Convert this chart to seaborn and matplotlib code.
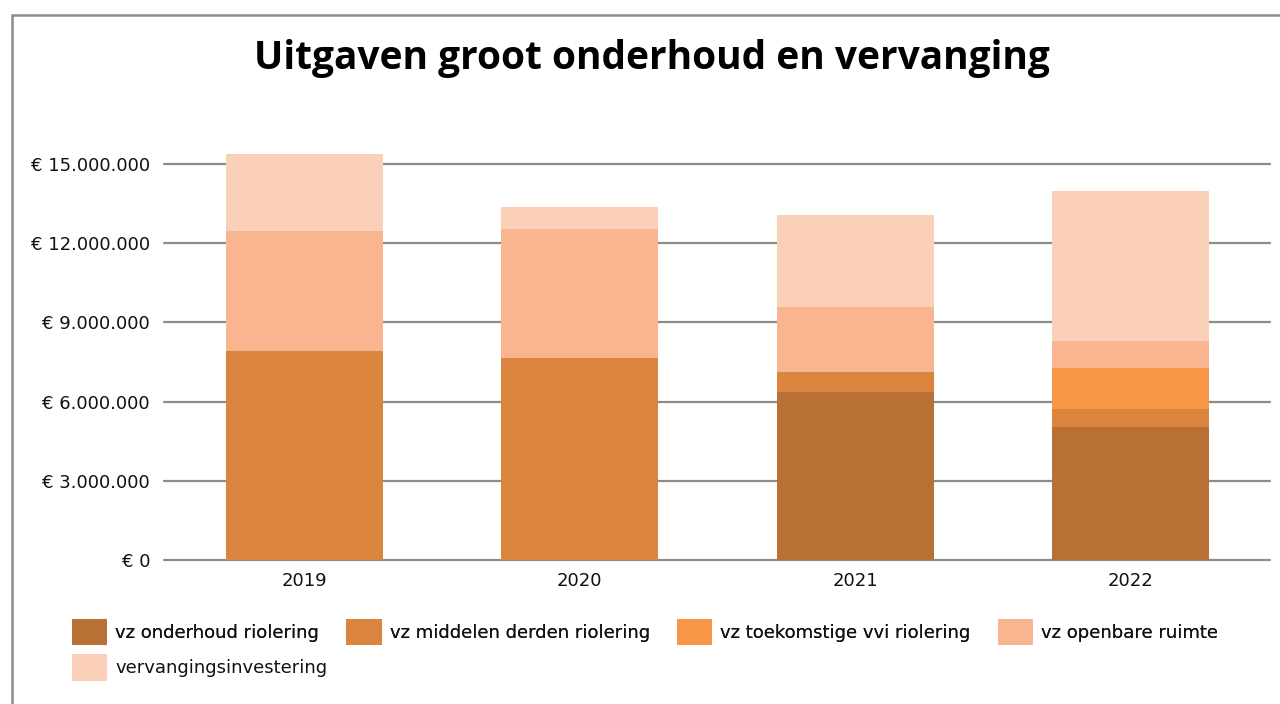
import matplotlib
matplotlib.use("Agg")
import matplotlib.pyplot as plt
from matplotlib.patches import Rectangle
from matplotlib.ticker import FuncFormatter
import seaborn as sns
import numpy as np

# Expenditure per year, in euros
years = ["2019", "2020", "2021", "2022"]
series_names = [
    "vz onderhoud riolering",
    "vz middelen derden riolering",
    "vz toekomstige vvi riolering",
    "vz openbare ruimte",
    "vervangingsinvestering",
]
onderhoud_riolering = [0, 0, 6_360_000, 5_030_000]
middelen_derden = [7_930_000, 7_640_000, 750_000, 680_000]
toekomstige_vvi = [0, 0, 0, 1_550_000]
openbare_ruimte = [4_540_000, 4_910_000, 2_470_000, 1_050_000]
vervangingsinvestering = [2_910_000, 830_000, 3_500_000, 5_660_000]
y_ticks = [0, 3_000_000, 6_000_000, 9_000_000, 12_000_000, 15_000_000]

colors = ["#B97034", "#DB843D", "#F69646", "#F9B590", "#FAD0B9"]

sns.set_theme(style="white")
plt.rcParams["font.family"] = ["DejaVu Sans"]

fig = plt.figure(figsize=(12.8, 7.04), dpi=100)
ax = fig.add_axes([164 / 1280, 1 - 560 / 704, (1270 - 164) / 1280, 422.4 / 704])

series = [onderhoud_riolering, middelen_derden, toekomstige_vvi,
          openbare_ruimte, vervangingsinvestering]
bottom = np.zeros(len(years))
for name, vals, col in zip(series_names, series, colors):
    sns.barplot(x=years, y=vals, bottom=bottom, color=col, width=0.57,
                ax=ax, label=name, saturation=1, linewidth=0)
    bottom = bottom + np.array(vals)

handles, labels = ax.get_legend_handles_labels()
if ax.get_legend() is not None:
    ax.get_legend().remove()

ax.set_ylim(0, 16_000_000)
ax.set_xlim(-0.51, 3.507)
ax.set_yticks(y_ticks)


def euro(v, _pos):
    s = f"{int(round(v)):,}".replace(",", ".")
    return f"€ {s}"


ax.yaxis.set_major_formatter(FuncFormatter(euro))
ax.yaxis.grid(True, color="#8C8C8C", linewidth=1.6)
for gl in ax.yaxis.get_gridlines():
    gl.set_clip_on(False)
ax.set_axisbelow(True)
for sp in ax.spines.values():
    sp.set_visible(False)
ax.tick_params(axis="both", length=0, labelsize=13, colors="#111111")
ax.tick_params(axis="y", pad=10)
ax.tick_params(axis="x", pad=9)
ax.set_xlabel("")
ax.set_ylabel("")

fig.text(652 / 1280, 1 - 58 / 704, "Uitgaven groot onderhoud en vervanging",
         ha="center", va="center", fontsize=28, fontweight="bold",
         family=["Open Sans", "DejaVu Sans"], color="#000000")

# Outer chart frame
fig.patches.append(Rectangle((12 / 1280, -0.1), 1.2, 1 - 15 / 704 + 0.1,
                             transform=fig.transFigure, fill=False,
                             edgecolor="#8C8C8C", linewidth=1.8))

legend_kw = dict(loc="upper left", frameon=False, fontsize=13,
                 handlelength=1.94, handleheight=1.89, handletextpad=0.45,
                 columnspacing=1.52, borderpad=0, borderaxespad=0,
                 labelspacing=0.2, labelcolor="#111111")
leg1 = fig.legend(handles[:4], labels[:4], ncol=4,
                  bbox_to_anchor=(72 / 1280, 1 - 618.5 / 704), **legend_kw)
fig.legend(handles[4:], labels[4:], ncol=1,
           bbox_to_anchor=(72 / 1280, 1 - 654 / 704), **legend_kw)
fig.add_artist(leg1)

fig.savefig("out.png", dpi=100)
